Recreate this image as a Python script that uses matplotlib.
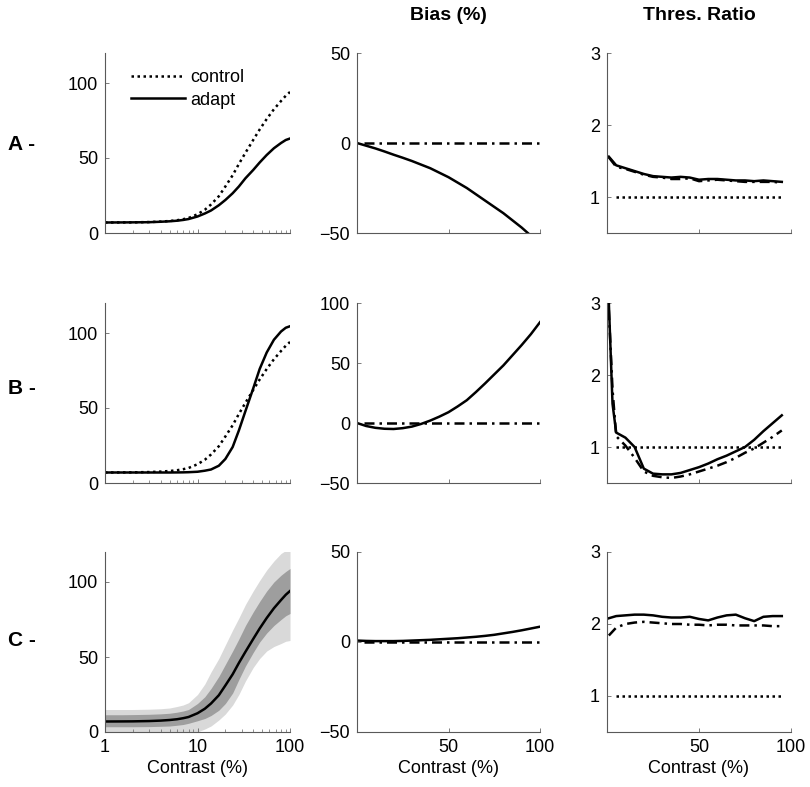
import numpy as np
import matplotlib.pyplot as plt

plt.rcParams['font.family'] = ['Liberation Sans', 'DejaVu Sans']

# ---- data ----
# left column: response vs contrast (log axis)
contrast = [1, 1.5, 2, 3, 4, 5, 6, 7, 8, 10, 12, 14, 17, 20, 24, 28, 33, 40, 47, 56, 67, 80, 90, 100]
control = [7.0, 7.05, 7.1, 7.3, 7.6, 8.0, 8.5, 9.2, 10.0, 12.5, 15.5, 19, 24.5, 31, 38.5, 46, 53.5, 62, 69, 76, 82.5, 88, 91.5, 94]
A_adapt = [7.0, 7.05, 7.1, 7.2, 7.5, 7.8, 8.2, 8.7, 9.3, 11, 13, 15, 18.5, 22, 26.5, 31, 36.5, 42, 47, 52, 56.5, 60, 62, 63]
B_adapt = [7.0, 7.0, 7.0, 7.0, 7.0, 7.0, 7.05, 7.1, 7.2, 7.5, 8.2, 9, 11.5, 16, 24, 35, 48, 63, 76, 87, 95.5, 101, 103.5, 104.5]
C_dark_lo = [3.5, 3.5, 3.5, 3.6, 3.8, 4, 4.5, 5, 5.8, 7.5, 9, 11, 14.5, 19, 26, 35, 44, 53, 60, 66, 71, 75, 77.5, 79]
C_dark_hi = [11.5, 11.5, 11.6, 11.8, 12.1, 12.5, 13.2, 14, 15, 19, 23.5, 29, 37, 45, 54, 62, 71, 80, 87, 94, 100, 104.5, 107, 109]
C_light_lo = [-2, -2, -2, -2, -2, -2, -1.5, -1, -0.5, 0, 2, 4, 8, 12, 18, 25, 34, 43, 49, 54, 57, 59, 60.5, 61]
C_light_hi = [15, 15, 15, 15.2, 15.5, 16, 17, 18, 19.5, 25, 32, 40, 49, 58, 68, 76, 85, 94, 101, 108, 114, 119, 121, 122]

# middle column: bias (%)
bias_x = [0, 5, 10, 15, 20, 25, 30, 35, 40, 45, 50, 55, 60, 65, 70, 75, 80, 85, 90, 95, 100]
bias_A = [0, -1.5, -3, -4.7, -6.5, -8.2, -10, -12, -14, -16.5, -19, -22, -25, -28.5, -32, -35.5, -39, -43, -47, -51.5, -56]
bias_B = [0, -2.5, -4, -4.8, -5, -4.3, -3, -0.8, 2, 5.3, 9, 13.8, 19, 25.8, 33, 40.5, 48, 56.5, 65, 74, 84]
bias_C = [0.8, 0.6, 0.5, 0.5, 0.5, 0.6, 0.8, 1.0, 1.2, 1.5, 1.8, 2.1, 2.5, 2.9, 3.4, 4.0, 4.8, 5.6, 6.5, 7.5, 8.5]
ref_x = [4, 100]
ref_bias = [0, 0]

# right column: threshold ratio
thr_x = [1, 5, 10, 15, 20, 25, 30, 35, 40, 45, 50, 55, 60, 65, 70, 75, 80, 85, 90, 95]
thr_A = [1.56, 1.44, 1.40, 1.36, 1.32, 1.29, 1.28, 1.27, 1.28, 1.27, 1.24, 1.25, 1.25, 1.24, 1.23, 1.23, 1.22, 1.23, 1.22, 1.21]
thr_A_dd = [1.55, 1.42, 1.39, 1.35, 1.31, 1.28, 1.27, 1.25, 1.25, 1.26, 1.22, 1.23, 1.24, 1.23, 1.22, 1.21, 1.21, 1.21, 1.21, 1.20]
thr_x_B = [1, 3, 5, 10, 15, 20, 25, 30, 35, 40, 45, 50, 55, 60, 65, 70, 75, 80, 85, 90, 95]
thr_B = [3.0, 1.6, 1.2, 1.13, 1.0, 0.70, 0.63, 0.62, 0.62, 0.64, 0.68, 0.72, 0.77, 0.83, 0.88, 0.94, 1.0, 1.1, 1.22, 1.33, 1.44]
thr_B_dd = [2.9, 1.8, 1.15, 1.02, 0.85, 0.66, 0.60, 0.58, 0.57, 0.59, 0.62, 0.66, 0.70, 0.74, 0.79, 0.85, 0.92, 0.98, 1.06, 1.14, 1.23]
thr_C = [2.08, 2.11, 2.12, 2.13, 2.13, 2.12, 2.10, 2.09, 2.09, 2.10, 2.07, 2.05, 2.09, 2.12, 2.13, 2.08, 2.04, 2.10, 2.11, 2.11]
thr_C_dd = [1.84, 1.95, 2.0, 2.02, 2.03, 2.02, 2.01, 2.0, 2.0, 1.99, 1.99, 1.98, 1.99, 1.99, 1.98, 1.98, 1.98, 1.98, 1.97, 1.97]
unit_x = [5, 95]
unit_y = [1, 1]

row_labels = ['A -', 'B -', 'C -']

W, H = 810, 787
fig = plt.figure(figsize=(W / 100, H / 100), dpi=100)

col_x = [105, 357, 607]
col_w = [185, 183, 184]
row_bottom = [233, 483, 732]
ax_h = 180

dashdot = (0, (4, 2, 1, 2))
dotted = (0, (1, 1.4))
LW = 1.8
TS = 13


def make_ax(r, c):
    ax = fig.add_axes([col_x[c] / W, (H - row_bottom[r]) / H, col_w[c] / W, ax_h / H])
    for s in ['top', 'right']:
        ax.spines[s].set_visible(False)
    for s in ['left', 'bottom']:
        ax.spines[s].set_color('0.35')
        ax.spines[s].set_linewidth(0.8)
    ax.tick_params(direction='in', length=3, width=0.6, color='0.4', labelsize=TS, pad=5)
    ax.tick_params(which='minor', direction='in', length=2, width=0.5, color='0.4')
    return ax


axes = [[make_ax(r, c) for c in range(3)] for r in range(3)]

# left column
for r, adapt in enumerate([A_adapt, B_adapt]):
    ax = axes[r][0]
    ax.plot(contrast, control, color='k', lw=LW, ls=dotted, label='control')
    ax.plot(contrast, adapt, color='k', lw=LW, label='adapt')
ax = axes[2][0]
ax.fill_between(contrast, C_light_lo, C_light_hi, color='0.85', lw=0)
ax.fill_between(contrast, C_dark_lo, C_dark_hi, color='0.62', lw=0)
ax.plot(contrast, control, color='k', lw=LW)
for r in range(3):
    ax = axes[r][0]
    ax.set_xscale('log')
    ax.set_xlim(1, 100)
    ax.set_ylim(0, 120)
    ax.set_yticks([0, 50, 100])
    ax.set_xticks([1, 10, 100])
    if r < 2:
        ax.set_xticklabels([])
    else:
        ax.set_xticklabels(['1', '10', '100'])
axes[0][0].legend(loc='upper left', bbox_to_anchor=(0.05, 1.0), frameon=False,
                  fontsize=TS, handlelength=3.0, handletextpad=0.3, labelspacing=0.3)

# middle column
mids = [(bias_A, [-50, 50], [-50, 0, 50]),
        (bias_B, [-50, 100], [-50, 0, 50, 100]),
        (bias_C, [-50, 50], [-50, 0, 50])]
for r, (by, yl, yt) in enumerate(mids):
    ax = axes[r][1]
    ax.plot(ref_x, ref_bias, color='k', lw=LW, ls=dashdot)
    ax.plot(bias_x, by, color='k', lw=LW)
    ax.set_xlim(0, 100)
    ax.set_ylim(*yl)
    ax.set_yticks(yt)
    ax.set_yticklabels([str(v).replace('-', '\u2212') for v in yt])
    ax.set_xticks([50, 100])
    if r < 2:
        ax.set_xticklabels([])

# right column
rights = [(thr_x, thr_A, thr_A_dd), (thr_x_B, thr_B, thr_B_dd), (thr_x, thr_C, thr_C_dd)]
for r, (tx, ts, td) in enumerate(rights):
    ax = axes[r][2]
    ax.plot(unit_x, unit_y, color='k', lw=LW, ls=dotted)
    ax.plot(tx, td, color='k', lw=LW, ls=dashdot)
    ax.plot(tx, ts, color='k', lw=LW)
    ax.set_xlim(0, 100)
    ax.set_ylim(0.5, 3)
    ax.set_yticks([1, 2, 3])
    ax.set_xticks([50, 100])
    if r < 2:
        ax.set_xticklabels([])

for c in range(3):
    axes[2][c].set_xlabel('Contrast (%)', fontsize=TS, labelpad=3)

axes[0][1].set_title('Bias (%)', fontsize=14, fontweight='bold', pad=24)
axes[0][2].set_title('Thres. Ratio', fontsize=14, fontweight='bold', pad=24)

row_y = [145, 388, 640]
for lab, y in zip(row_labels, row_y):
    fig.text(8 / W, 1 - y / H, lab, fontsize=15, fontweight='bold', va='center', ha='left')

fig.savefig('out.png', dpi=100)
